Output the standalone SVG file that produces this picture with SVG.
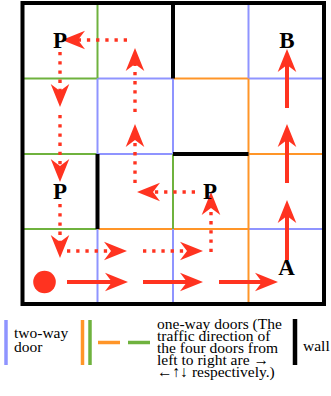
<svg xmlns="http://www.w3.org/2000/svg" width="331" height="396" viewBox="0 0 331 396">
<style>
.two{stroke:#8f94ff;stroke-width:2;fill:none}
.grn{stroke:#6fb23e;stroke-width:2;fill:none}
.org{stroke:#ff9528;stroke-width:2;fill:none}
.wall{stroke:#000;stroke-width:4;fill:none}
.dot{stroke:#ff3320;stroke-width:3.4;stroke-dasharray:3.3 5.9;fill:none;marker-end:url(#ah)}
.sol{stroke:#ff3320;stroke-width:4;fill:none;marker-end:url(#ah)}
.lbl{font-family:"Liberation Serif","Times New Roman",serif;font-weight:bold;font-size:23px;text-anchor:middle;fill:#000}
.leg{font-family:"Liberation Serif","Times New Roman",serif;font-size:15.5px;fill:#000}
</style>
<defs>
<marker id="ah" markerUnits="userSpaceOnUse" viewBox="-10 -10 20 20" markerWidth="20" markerHeight="20" refX="-5" refY="0" orient="auto" overflow="visible">
<path d="M9,0 L-14,-9.3 L-7,0 L-14,9.3 Z" fill="#ff3320"/>
</marker>
</defs>
<rect width="331" height="396" fill="#fff"/>
<g id="grid">
<!-- horizontal y=78.5 -->
<line class="grn" x1="22.5" y1="78.5" x2="97.5" y2="78.5"/>
<line class="two" x1="97.5" y1="78.5" x2="173" y2="78.5"/>
<line class="org" x1="173" y1="78.5" x2="248.5" y2="78.5"/>
<line class="two" x1="248.5" y1="78.5" x2="324" y2="78.5"/>
<!-- y=154 -->
<line class="grn" x1="22.5" y1="154" x2="97.5" y2="154"/>
<line class="two" x1="97.5" y1="154" x2="173" y2="154"/>
<line class="org" x1="248.5" y1="154" x2="324" y2="154"/>
<!-- y=229 -->
<line class="grn" x1="22.5" y1="229" x2="97.5" y2="229"/>
<line class="org" x1="97.5" y1="229" x2="248.5" y2="229"/>
<line class="two" x1="248.5" y1="229" x2="324" y2="229"/>
<!-- x=97.5 -->
<line class="grn" x1="97.5" y1="3" x2="97.5" y2="78.5"/>
<line class="two" x1="97.5" y1="78.5" x2="97.5" y2="154"/>
<line class="two" x1="97.5" y1="229" x2="97.5" y2="304"/>
<!-- x=173 -->
<line class="two" x1="173" y1="78.5" x2="173" y2="154"/>
<line class="grn" x1="173" y1="154" x2="173" y2="229"/>
<line class="two" x1="173" y1="229" x2="173" y2="304"/>
<!-- x=248.5 -->
<line class="two" x1="248.5" y1="3" x2="248.5" y2="78.5"/>
<line class="org" x1="248.5" y1="78.5" x2="248.5" y2="304"/>
<!-- walls -->
<line class="wall" x1="173" y1="3" x2="173" y2="78.5"/>
<line class="wall" x1="97.5" y1="154" x2="97.5" y2="229"/>
<line class="wall" x1="173" y1="154" x2="248.5" y2="154"/>
<rect class="wall" x="22.5" y="3" width="301.5" height="301"/>
</g>
<g id="connectors">
<line class="dot" x1="127" y1="40" x2="76" y2="40"/>
<line class="dot" x1="135" y1="183" x2="135" y2="138"/>
<line class="dot" x1="135" y1="112" x2="135" y2="62"/>
<line class="dot" x1="195" y1="192" x2="151" y2="192"/>
<line class="dot" x1="211" y1="252" x2="211" y2="206"/>
<line class="dot" x1="143" y1="251" x2="189" y2="251"/>
<line class="dot" x1="67" y1="251" x2="113" y2="251"/>
<line class="dot" x1="60" y1="204" x2="60" y2="244"/>
<line class="dot" x1="60" y1="115" x2="60" y2="168"/>
<line class="dot" x1="60" y1="52" x2="60" y2="93"/>
<line class="sol" x1="67" y1="282" x2="114" y2="282"/>
<line class="sol" x1="143" y1="282" x2="189" y2="282"/>
<line class="sol" x1="219" y1="282" x2="264" y2="282"/>
<line class="sol" x1="287" y1="260" x2="287" y2="214"/>
<line class="sol" x1="287" y1="183" x2="287" y2="138"/>
<line class="sol" x1="287" y1="108" x2="287" y2="63"/>
</g>
<g id="start"><circle cx="44.5" cy="282" r="11.3" fill="#ff3320"/></g>
<g id="P1"><text class="lbl" x="60" y="48">P</text></g>
<g id="P2"><text class="lbl" x="60" y="199">P</text></g>
<g id="P3"><text class="lbl" x="210" y="199">P</text></g>
<g id="B"><text class="lbl" x="287" y="48">B</text></g>
<g id="A"><text class="lbl" x="286.5" y="275">A</text></g>
<g id="legend">
<line stroke="#8f94ff" stroke-width="3.5" x1="6" y1="320" x2="6" y2="365"/>
<text class="leg" x="14" y="338">two-way</text>
<text class="leg" x="14" y="351.5">door</text>
<line stroke="#ff9528" stroke-width="3.5" x1="82.5" y1="320" x2="82.5" y2="365"/>
<line stroke="#6fb23e" stroke-width="3.5" x1="90" y1="320" x2="90" y2="365"/>
<line stroke="#ff9528" stroke-width="3.5" x1="98" y1="342.5" x2="120" y2="342.5"/>
<line stroke="#6fb23e" stroke-width="3.5" x1="128" y1="342.5" x2="150" y2="342.5"/>
<text class="leg" x="157" y="329">one-way doors (The</text>
<text class="leg" x="157" y="341">traffic direction of</text>
<text class="leg" x="157" y="353">the four doors from</text>
<text class="leg" x="157" y="365">left to right are →</text>
<text class="leg" x="157" y="377">←↑↓ respectively.)</text>
<line stroke="#000" stroke-width="4.5" x1="295" y1="319" x2="295" y2="365"/>
<text class="leg" x="303" y="351">wall</text>
</g>
</svg>
